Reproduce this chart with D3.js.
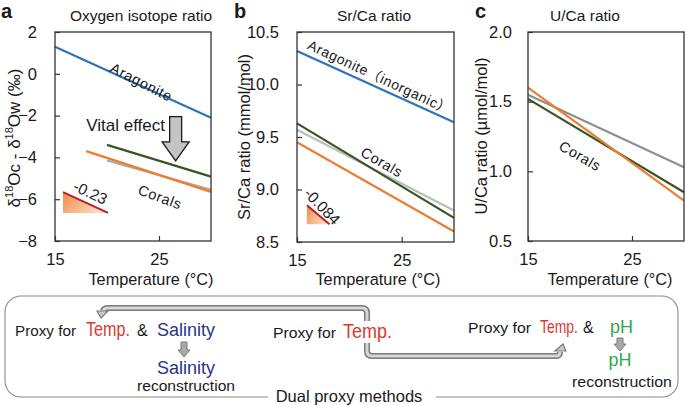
<!DOCTYPE html>
<html><head><meta charset="utf-8">
<script src="https://cdn.jsdelivr.net/npm/d3@7"></script>
<style>
body{margin:0;background:#fff}
svg{display:block}
text{font-family:"Liberation Sans",Arial,"Noto Sans CJK JP",sans-serif;fill:#1a1a1a}
</style>
</head><body><svg id="chart" width="685" height="405"></svg>
<script>
// ---------------- data ----------------
const tempDomain = [15, 30];
const tempTicks = [15, 25];
const oxyDomain = [-8, 2];
const oxyTicks = [-8, -6, -4, -2, 0, 2];
const srDomain = [8.5, 10.5];
const srTicks = [8.5, 9.0, 9.5, 10.0, 10.5];
const uDomain = [0.5, 2.0];
const uTicks = [0.5, 1.0, 1.5, 2.0];

// panel a: oxygen isotope ratio (δ18Oc - δ18Ow, ‰) vs temperature
const oxyAragonite = [[15, 1.3], [30, -2.1]];
const oxyCoralGray = [[20, -4.15], [30, -5.55]];
const oxyCoralOrange = [[18, -3.7], [30, -5.65]];
const oxyCoralGreen = [[20, -3.4], [30, -4.92]];
const oxySlope = -0.23;

// panel b: Sr/Ca ratio (mmol/mol)
const srAragonite = [[15, 10.32], [30, 9.64]];
const srCoralGray = [[15, 9.57], [30, 8.80]];
const srCoralOrange = [[15, 9.45], [30, 8.60]];
const srCoralGreen = [[15, 9.63], [30, 8.73]];
const srSlope = -0.084;

// panel c: U/Ca ratio (µmol/mol)
const uCoralGray = [[15, 1.55], [30, 1.03]];
const uCoralOrange = [[15, 1.60], [30, 0.79]];
const uCoralGreen = [[15, 1.52], [30, 0.85]];

const C = {blue:"#2e75b6", green:"#375623", orange:"#ed7d31", gray:"#ababab", grayDark:"#8f8f8f",
           red:"#d93a30", navy:"#2b3588", phGreen:"#2fa84f"};

const svg = d3.select("#chart");
const defs = svg.append("defs");
const grad = defs.append("linearGradient").attr("id","tri").attr("x1","0").attr("y1","0").attr("x2","1").attr("y2","0.4");
grad.append("stop").attr("offset","0").attr("stop-color","#ef8c48");
grad.append("stop").attr("offset","1").attr("stop-color","#fddcc2");

function panel(cfg){
  const x = d3.scaleLinear().domain(tempDomain).range([cfg.x0, cfg.x1]);
  const y = d3.scaleLinear().domain(cfg.domain).range([cfg.y1, cfg.y0]);
  const g = svg.append("g");
  const line = d3.line().x(d=>x(d[0])).y(d=>y(d[1]));
  cfg.series.forEach(s=>{
    g.append("path").attr("d", line(s.data)).attr("fill","none")
      .attr("stroke", s.color).attr("stroke-width", 2.2);
  });
  const ya = g.append("g").attr("transform",`translate(${cfg.x0},0)`)
    .call(d3.axisLeft(y).tickValues(cfg.ticks).tickFormat(cfg.fmt).tickSizeInner(-5).tickSizeOuter(0).tickPadding(cfg.pad));
  const xa = g.append("g").attr("transform",`translate(0,${cfg.y1})`)
    .call(d3.axisBottom(x).tickValues(tempTicks).tickFormat(d3.format("d")).tickSizeInner(-5).tickSizeOuter(0).tickPadding(12));
  [ya, xa].forEach(a=>{
    a.select(".domain").remove();
    a.selectAll("line").attr("stroke","#333").attr("stroke-width",1.2);
    a.selectAll("text").style("font-size","16.5px").attr("fill","#1a1a1a")
      .style("font-family","'Liberation Sans',Arial,sans-serif");
  });
  g.append("rect").attr("x",cfg.x0).attr("y",cfg.y0).attr("width",cfg.x1-cfg.x0).attr("height",cfg.y1-cfg.y0)
    .attr("fill","none").attr("stroke","#333").attr("stroke-width",1.3);
  g.append("text").attr("x",cfg.xLabelX).attr("y",285).attr("text-anchor","middle")
    .style("font-size","16.3px").text("Temperature (°C)");
  g.append("text").attr("x",cfg.titleX).attr("y",21).attr("text-anchor","middle")
    .style("font-size","15.5px").text(cfg.title);
  g.append("text").attr("x",cfg.letterX).attr("y",18).style("font-size","20px").style("font-weight","bold").text(cfg.letter);
  return {x, y, g};
}

// -------- panel a --------
const A = panel({x0:55, x1:211, y0:32, y1:241, domain:oxyDomain, ticks:oxyTicks, fmt:d3.format("d"), pad:18,
  title:"Oxygen isotope ratio", titleX:141, letter:"a", letterX:1, xLabelX:151,
  series:[{data:oxyAragonite,color:C.blue},{data:oxyCoralGray,color:C.gray},
          {data:oxyCoralOrange,color:C.orange},{data:oxyCoralGreen,color:C.green}]});
{
  const t = svg.append("text").attr("transform","translate(20,138) rotate(-90)").attr("text-anchor","middle")
    .style("font-size","17px");
  t.append("tspan").text("δ");
  t.append("tspan").attr("dy",-7).style("font-size","11px").text("18");
  t.append("tspan").attr("dy",7).text("Oc - δ");
  t.append("tspan").attr("dy",-7).style("font-size","11px").text("18");
  t.append("tspan").attr("dy",7).text("Ow (‰)");
}
function rotLabel(P, tx, vy, ang, txt, size){
  return P.g.append("text").attr("transform",`translate(${P.x(tx)},${P.y(vy)}) rotate(${ang})`)
    .attr("text-anchor","middle").attr("dominant-baseline","central")
    .style("font-size",size+"px").style("letter-spacing","0.6px").text(txt);
}
rotLabel(A, 23.3, -0.4, 27, "Aragonite", 14.5);
rotLabel(A, 25.1, -5.9, 20, "Corals", 14.5);
A.g.append("text").attr("x",A.x(18)).attr("y",A.y(-2.74)).style("font-size","17px").text("Vital effect");
{
  const cx = 26.6, top = -2.05, headTop = -3.26, tip = -4.17;
  const sx0 = A.x(cx)-6, sx1 = A.x(cx)+6, hx0 = A.x(cx)-13.5, hx1 = A.x(cx)+13.5;
  const pts = [[sx0,A.y(top)],[sx1,A.y(top)],[sx1,A.y(headTop)],[hx1,A.y(headTop)],[A.x(cx),A.y(tip)],
               [hx0,A.y(headTop)],[sx0,A.y(headTop)]];
  A.g.append("polygon").attr("points",pts.map(p=>p.join(",")).join(" "))
    .attr("fill","#c4c4c4").attr("stroke","#1a1a1a").attr("stroke-width",1.3);
}
function slopeTri(P, t0, t1, vTop, slope, labelT, labelV, ang, txt){
  const vBot = vTop + slope*(t1-t0);
  P.g.append("polygon").attr("points",[[P.x(t0),P.y(vTop)],[P.x(t0),P.y(vBot)],[P.x(t1),P.y(vBot)]].map(p=>p.join(",")).join(" "))
    .attr("fill","url(#tri)");
  P.g.append("line").attr("x1",P.x(t0)).attr("y1",P.y(vTop)).attr("x2",P.x(t1)).attr("y2",P.y(vBot))
    .attr("stroke","#b8202a").attr("stroke-width",2);
  P.g.append("text").attr("transform",`translate(${P.x(labelT)},${P.y(labelV)}) rotate(${ang})`)
    .attr("text-anchor","middle").attr("dominant-baseline","central").style("font-size","15.5px").text(txt);
}
slopeTri(A, 15.77, 20.1, -5.66, oxySlope, 18.4, -5.68, 25, "-0.23");

// -------- panel b --------
const B = panel({x0:297, x1:454, y0:32, y1:242, domain:srDomain, ticks:srTicks, fmt:d3.format(".1f"), pad:18,
  title:"Sr/Ca ratio", titleX:374, letter:"b", letterX:234, xLabelX:378,
  series:[{data:srAragonite,color:C.blue},{data:srCoralGray,color:"#bdbdbd"},
          {data:srCoralOrange,color:C.orange},{data:srCoralGreen,color:C.green}]});
svg.append("text").attr("transform","translate(250,137) rotate(-90)").attr("text-anchor","middle")
  .style("font-size","16.5px").text("Sr/Ca ratio (mmol/mol)");
rotLabel(B, 22.9, 10.07, 25, "Aragonite（inorganic）", 14);
rotLabel(B, 23.1, 9.26, 30, "Corals", 14.5);
slopeTri(B, 15.95, 18.1, 8.85, srSlope, 17.4, 8.84, 46, "-0.084");

// -------- panel c --------
const Cc = panel({x0:528, x1:684, y0:32, y1:241, domain:uDomain, ticks:uTicks, fmt:d3.format(".1f"), pad:16,
  title:"U/Ca ratio", titleX:585, letter:"c", letterX:475, xLabelX:610,
  series:[{data:uCoralGray,color:C.grayDark},{data:uCoralGreen,color:C.green},{data:uCoralOrange,color:C.orange}]});
svg.append("text").attr("transform","translate(487,136) rotate(-90)").attr("text-anchor","middle")
  .style("font-size","16.5px").text("U/Ca ratio (µmol/mol)");
rotLabel(Cc, 20, 1.11, 30, "Corals", 14.5);

// -------- bottom: dual proxy methods --------
const bot = svg.append("g");
bot.append("rect").attr("x",5).attr("y",296).attr("width",673).attr("height",101).attr("rx",16)
  .attr("fill","none").attr("stroke","#8a8a8a").attr("stroke-width",1.1);
bot.append("rect").attr("x",268).attr("y",392).attr("width",168).attr("height",12).attr("fill","#fff");
bot.append("text").attr("x",349).attr("y",402).attr("text-anchor","middle").style("font-size","16.5px").text("Dual proxy methods");

function pipe(d){
  bot.append("path").attr("d",d).attr("fill","none").attr("stroke","#7a7a7a").attr("stroke-width",6).attr("stroke-linejoin","round");
  bot.append("path").attr("d",d).attr("fill","none").attr("stroke","#d6d6d6").attr("stroke-width",3).attr("stroke-linejoin","round");
}
pipe("M367,321 L367,313 Q367,308 362,308 L108,308 Q104,308 103,311");
bot.append("polygon").attr("points","97,311 108,311 101,318").attr("fill","#c8c8c8").attr("stroke","#7a7a7a").attr("stroke-width",1.2);
pipe("M367,343 L367,351 Q367,356 372,356 L556,356 Q560,356 560,352");
bot.append("polygon").attr("points","555,351 566,351 563,344").attr("fill","#c8c8c8").attr("stroke","#7a7a7a").attr("stroke-width",1.2);

function downArrow(cx, y0, y1){
  const hy = y1 - 7;
  const pts = [[cx-3,y0],[cx+3,y0],[cx+3,hy],[cx+6,hy],[cx,y1],[cx-6,hy],[cx-3,hy]];
  bot.append("polygon").attr("points",pts.map(p=>p.join(",")).join(" "))
    .attr("fill","#a9a9a9").attr("stroke","#7a7a7a").attr("stroke-width",1);
}
downArrow(184, 342, 357);
downArrow(620, 338, 351);

// text piece fitted to a target width by a horizontal scale (keeps glyph height)
function seg(x, y, txt, size, color, len, anchor){
  const t = bot.append("text").style("font-size",size+"px").style("fill",color).text(txt);
  let sx = 1;
  if(len){ sx = len / t.node().getComputedTextLength(); }
  if(anchor) t.attr("text-anchor",anchor);
  t.attr("transform",`translate(${x},${y}) scale(${sx.toFixed(3)},1)`);
  return t;
}
// left
seg(15, 336, "Proxy for", 15.5, "#1a1a1a", 61);
seg(86, 336, "Temp.", 20, C.red, 44);
seg(137, 336, "&", 16, "#1a1a1a");
seg(157, 336, "Salinity", 18, C.navy, 58);
seg(186, 373.5, "Salinity", 18, C.navy, 58, "middle");
seg(186, 391, "reconstruction", 15, "#1a1a1a", 98, "middle");
// middle
seg(273, 338, "Proxy for", 15.5, "#1a1a1a", 63);
seg(343, 338, "Temp.", 21, C.red, 49);
// right
seg(468, 333, "Proxy for", 15.5, "#1a1a1a", 63);
seg(540, 333, "Temp.", 19, C.red, 38);
seg(583, 333, "&", 16, "#1a1a1a");
seg(610, 333, "pH", 17.5, C.phGreen, 23);
seg(620, 366, "pH", 17.5, C.phGreen, 23, "middle");
seg(622, 387, "reconstruction", 15, "#1a1a1a", 100, "middle");
</script>
</body></html>
